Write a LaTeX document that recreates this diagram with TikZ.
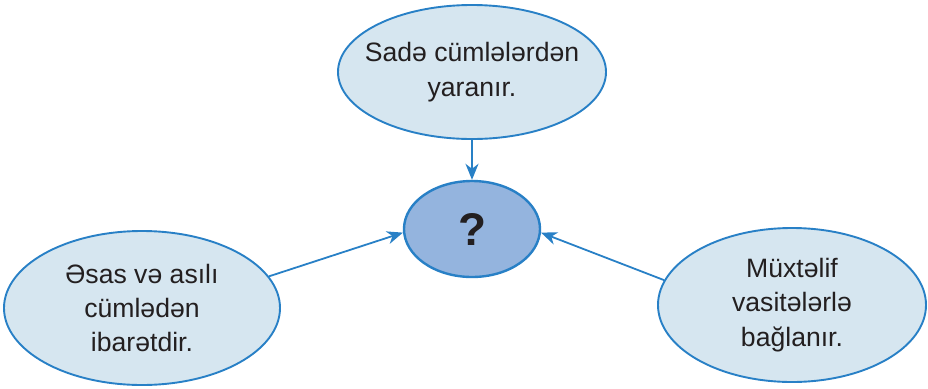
\documentclass[tikz,border=0pt]{standalone}
\usepackage{fontspec}
\setmainfont{Liberation Sans}
\usetikzlibrary{shapes.geometric,arrows.meta}
\definecolor{edgeblue}{RGB}{40,128,198}
\definecolor{lightfill}{RGB}{214,230,240}
\definecolor{midfill}{RGB}{148,180,222}
\definecolor{txt}{RGB}{35,31,32}
\tikzset{
  bubbletext/.style={align=center, text=txt, inner sep=0pt, font=\fontsize{26.7}{34.5}\selectfont},
  bubble/.style={ellipse, draw=edgeblue, line width=1.9bp, fill=lightfill, inner sep=0pt},
  hub/.style={ellipse, draw=edgeblue, line width=2.4bp, fill=midfill, inner sep=0pt,
    text=txt, font=\fontsize{46}{50}\selectfont\bfseries},
  link/.style={draw=edgeblue, line width=1.8bp, -{Stealth[length=16bp,width=13bp,inset=5bp]}}
}
\begin{document}
\begin{tikzpicture}[x=1bp,y=-1bp]
\useasboundingbox (0,0) rectangle (928,388);
\node[bubble, minimum width=268bp, minimum height=134bp,
  label={[bubbletext]center:{Sadə cümlələrdən\\yaranır.}}] (top) at (472,72) {};
\node[hub, minimum width=136bp, minimum height=96bp] (ce) at (472,229) {?};
\node[bubble, minimum width=276bp, minimum height=154bp,
  label={[bubbletext]center:{Əsas və asılı\\cümlədən\\ibarətdir.}}] (lf) at (142,308) {};
\node[bubble, minimum width=268bp, minimum height=154bp,
  label={[bubbletext]center:{Müxtəlif\\vasitələrlə\\bağlanır.}}] (rt) at (792,305) {};
\draw[link] (top.south) -- (ce.north);
\draw[link] (lf.14) -- (ce.183);
\draw[link] (rt.169) -- (ce.-3);
\end{tikzpicture}
\end{document}
